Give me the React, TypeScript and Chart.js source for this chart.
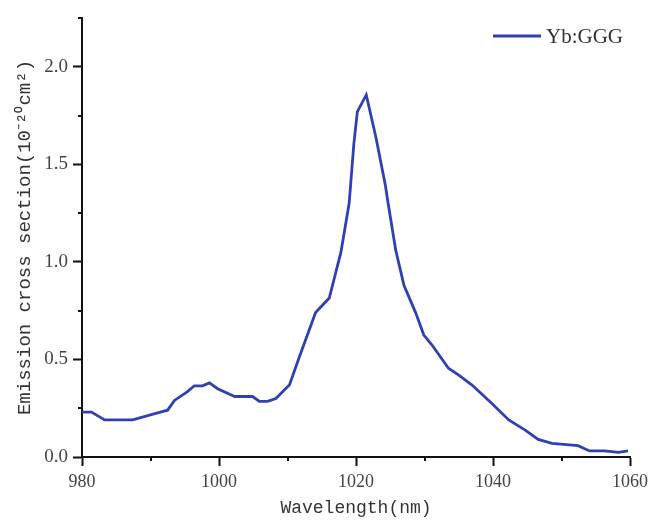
import React, { useEffect, useRef } from "react";
import { Chart, registerables } from "chart.js";

Chart.register(...registerables);

const wavelength = [
  980, 981.4, 983.3, 987.4, 990.9, 992.5, 993.5, 995.4, 996.4, 997.6, 998.6, 999.8,
  1002.3, 1004.9, 1005.9, 1007.1, 1008.3, 1010.3, 1011.7, 1014.1, 1016.1, 1017.8,
  1019.0, 1019.7, 1020.2, 1021.5, 1022.9, 1024.3, 1024.6, 1025.8, 1027.0, 1028.7,
  1029.9, 1031.1, 1033.5, 1035.0, 1036.9, 1039.8, 1042.3, 1044.7, 1046.6, 1048.6,
  1052.4, 1054.1, 1056.3, 1058.3, 1059.7,
];
const emission = [
  0.23, 0.23, 0.19, 0.19, 0.225, 0.24, 0.29, 0.335, 0.365, 0.365, 0.38, 0.35,
  0.31, 0.31, 0.285, 0.285, 0.3, 0.37, 0.51, 0.74, 0.815, 1.05,
  1.3, 1.61, 1.77, 1.856, 1.64, 1.39, 1.32, 1.06, 0.88, 0.74,
  0.625, 0.574, 0.455, 0.42, 0.37, 0.275, 0.19, 0.138, 0.09, 0.07,
  0.058, 0.031, 0.031, 0.024, 0.031,
];
const seriesLabel = "Yb:GGG";
const xTitle = "Wavelength(nm)";
const yTitle = "Emission cross section(10\u207B\u00B2\u2070cm\u00B2)";
const xMinorTicks = [990, 1010, 1030, 1050];
const yMinorTicks = [0.25, 0.75, 1.25, 1.75, 2.25];

const minorTickPlugin = {
  id: "minorTicks",
  afterDraw(chart: any) {
    const { ctx } = chart;
    const xs = chart.scales.x;
    const ys = chart.scales.y;
    ctx.save();
    ctx.strokeStyle = "#111";
    ctx.lineWidth = 2;
    ctx.beginPath();
    for (const v of xMinorTicks) {
      const px = Math.round(xs.getPixelForValue(v));
      ctx.moveTo(px, xs.top);
      ctx.lineTo(px, xs.top + 4);
    }
    for (const v of yMinorTicks) {
      const py = Math.round(ys.getPixelForValue(v));
      ctx.moveTo(ys.right - 4, py);
      ctx.lineTo(ys.right, py);
    }
    ctx.stroke();
    ctx.restore();
  },
};

// legend drawn inside the plot area, top-right
const insideLegendPlugin = {
  id: "insideLegend",
  afterDraw(chart: any) {
    const { ctx, chartArea } = chart;
    const ds = chart.data.datasets[0];
    const cy = chartArea.top + 18;
    const x0 = chartArea.right - 137;
    ctx.save();
    ctx.strokeStyle = ds.borderColor;
    ctx.lineWidth = ds.borderWidth;
    ctx.beginPath();
    ctx.moveTo(x0, cy);
    ctx.lineTo(x0 + 48, cy);
    ctx.stroke();
    ctx.fillStyle = "#333";
    ctx.font = "21px 'Liberation Serif'";
    ctx.textBaseline = "middle";
    ctx.textAlign = "left";
    ctx.fillText(ds.label, x0 + 53, cy + 1);
    ctx.restore();
  },
};

export default function App() {
  const ref = useRef<HTMLCanvasElement>(null);
  useEffect(() => {
    if (!ref.current) return;
    const chart = new Chart(ref.current, {
      type: "line",
      data: {
        datasets: [
          {
            label: seriesLabel,
            data: wavelength.map((x, i) => ({ x, y: emission[i] })),
            borderColor: "#3040b4",
            backgroundColor: "#3040b4",
            borderWidth: 2.8,
            pointRadius: 0,
            tension: 0,
            fill: false,
          },
        ],
      },
      options: {
        animation: false,
        responsive: false,
        layout: { padding: { top: 18, right: 20, left: 0, bottom: 0 } },
        plugins: {
          tooltip: { enabled: false },
          legend: { display: false },
        },
        scales: {
          x: {
            type: "linear",
            min: 980,
            max: 1060,
            ticks: {
              stepSize: 20,
              padding: 5,
              color: "#444",
              font: { family: "Liberation Serif", size: 18 },
              callback: (v: any) => String(v),
            },
            grid: {
              display: true,
              drawOnChartArea: false,
              drawTicks: true,
              tickLength: 9,
              tickWidth: 2,
              tickColor: "#111",
            },
            border: { display: true, color: "#111", width: 2 },
            title: {
              display: true,
              text: xTitle,
              color: "#333",
              font: { family: "Liberation Mono", size: 18 },
              padding: { top: 0, bottom: 1 },
            },
            afterFit: (s: any) => {
              s.height = 63;
            },
          },
          y: {
            type: "linear",
            min: 0,
            max: 2.25,
            afterBuildTicks: (s: any) => {
              s.ticks = s.ticks.filter(
                (t: any) => Math.abs(t.value / 0.5 - Math.round(t.value / 0.5)) < 1e-9
              );
            },
            ticks: {
              stepSize: 0.5,
              padding: 5,
              color: "#444",
              font: { family: "Liberation Serif", size: 19 },
              callback: (v: any) => Number(v).toFixed(1),
            },
            grid: {
              display: true,
              drawOnChartArea: false,
              drawTicks: true,
              tickLength: 9,
              tickWidth: 2,
              tickColor: "#111",
            },
            border: { display: true, color: "#111", width: 2 },
            title: {
              display: true,
              text: yTitle,
              color: "#333",
              font: { family: "Liberation Mono", size: 19 },
              padding: { top: 14, bottom: 0 },
            },
            afterFit: (s: any) => {
              s.width = 82;
            },
          },
        },
      },
      plugins: [minorTickPlugin, insideLegendPlugin],
    });
    return () => chart.destroy();
  }, []);
  return (
    <div style={{ position: "absolute", left: 0, top: 0, width: 653, height: 520, background: "#fff" }}>
      <canvas ref={ref} width={653} height={520} />
    </div>
  );
}
